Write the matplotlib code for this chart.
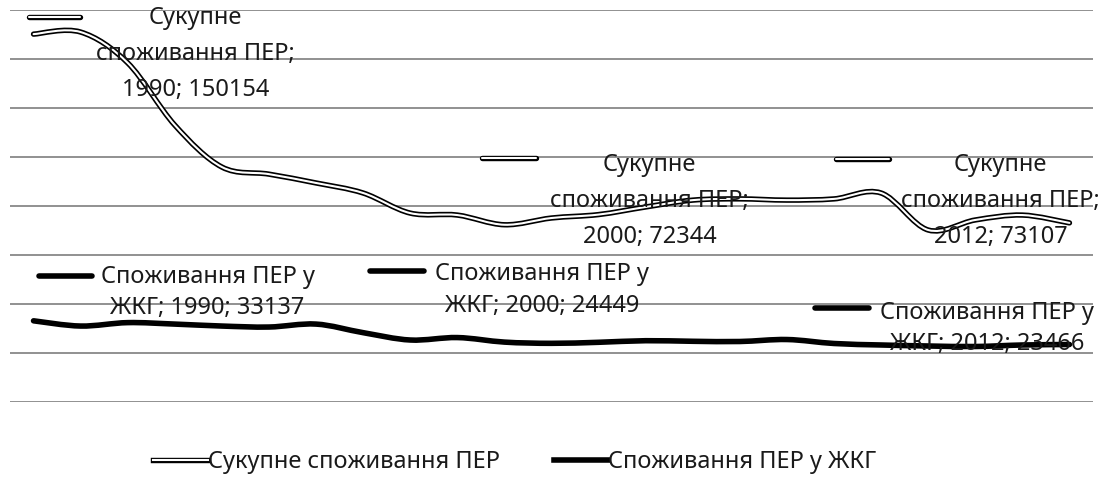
import matplotlib.pyplot as plt
import matplotlib.patheffects as pe
import matplotlib.transforms as mtransforms
from matplotlib.path import Path
from matplotlib.patches import PathPatch
from matplotlib.lines import Line2D
import numpy as np

plt.rcParams['font.family'] = ['Noto Sans', 'DejaVu Sans']

# дані
years = list(range(1990, 2013))
total = [150154, 151000, 138400, 113000, 95900, 93000, 89400, 85300, 77100, 76300,
         72344, 75100, 76500, 79600, 82400, 82900, 82400, 82900, 85300, 70200,
         74300, 76300, 73107]
housing = [33137, 31000, 32400, 31800, 31000, 30600, 31800, 28300, 25300, 26300,
           24449, 23950, 24370, 25020, 24780, 24690, 25500, 23880, 23270, 22860,
           22650, 23270, 23466]
name_total = 'Сукупне споживання ПЕР'
name_housing = 'Споживання ПЕР у ЖКГ'
label_years = [1990, 2000, 2012]

W, H = 1103, 490
fig = plt.figure(figsize=(W / 100, H / 100), dpi=100)
ax = fig.add_axes([10 / W, 88 / H, 1083 / W, 392 / H])
ax.set_xlim(1989.5, 2012.5)
ax.set_ylim(0, 160000)
ax.set_yticks(np.arange(0, 160001, 20000))
ax.set_xticks([])
ax.tick_params(left=False, labelleft=False)
for s in ax.spines.values():
    s.set_visible(False)
ax.grid(axis='y', color='#888888', linewidth=1.3)
ax.set_axisbelow(True)

double_fx = [pe.Stroke(linewidth=3.9, foreground='black'), pe.Normal()]
txt_col = '#1a1a1a'
fs = 17


def smooth_path(xs, ys):
    # згладжена лінія як в Excel (кубічні Безьє через точки)
    pts = np.column_stack([xs, ys]).astype(float)
    n = len(pts)
    verts = [pts[0]]
    codes = [Path.MOVETO]
    for i in range(n - 1):
        p0 = pts[max(i - 1, 0)]
        p1 = pts[i]
        p2 = pts[i + 1]
        p3 = pts[min(i + 2, n - 1)]
        c1 = p1 + (p2 - p0) / 6
        c2 = p2 - (p3 - p1) / 6
        verts += [c1, c2, p2]
        codes += [Path.CURVE4] * 3
    return Path(verts, codes)


p_total = PathPatch(smooth_path(years, total), facecolor='none', edgecolor='white',
                    linewidth=1.5, capstyle='round', joinstyle='round', path_effects=double_fx)
ax.add_patch(p_total)
p_house = PathPatch(smooth_path(years, housing), facecolor='none', edgecolor='black',
                    linewidth=4.0, capstyle='round', joinstyle='round')
ax.add_patch(p_house)

# підписи даних: (dx, dy) тексту та ключа в пікселях від точки
total_lab = {1990: ((162, -20), (-5, 46, 17)),
             2000: ((145, 24), (-22, 32, 67)),
             2012: ((-69, 22), (-233, -180, 64))}
house_lab = {1990: ((174, 28), (5, 58, 45)),
             2000: ((38, 52), (-134, -80, 71)),
             2012: ((-82, 16), (-254, -200, 37))}

for yr in label_years:
    i = years.index(yr)
    (tx, ty), (k1, k2, ky) = total_lab[yr]
    ax.annotate(f'Сукупне\nспоживання ПЕР;\n{yr}; {total[i]}', xy=(yr, total[i]),
                xytext=(tx, ty), textcoords='offset pixels', ha='center', va='center',
                fontsize=fs, linespacing=1.68, color=txt_col, annotation_clip=False)
    tr = mtransforms.ScaledTranslation(yr, total[i], ax.transData)
    fig.add_artist(Line2D([k1, k2], [ky, ky], transform=tr, color='white', linewidth=1.5,
                          solid_capstyle='round', path_effects=double_fx))

    (tx, ty), (k1, k2, ky) = house_lab[yr]
    ax.annotate(f'Споживання ПЕР у\nЖКГ; {yr}; {housing[i]}', xy=(yr, housing[i]),
                xytext=(tx, ty), textcoords='offset pixels', ha='center', va='center',
                fontsize=fs, linespacing=1.4, color=txt_col, annotation_clip=False)
    tr = mtransforms.ScaledTranslation(yr, housing[i], ax.transData)
    fig.add_artist(Line2D([k1, k2], [ky, ky], transform=tr, color='black', linewidth=4.0,
                          solid_capstyle='round'))

handles = [Line2D([], [], color='white', linewidth=1.5, path_effects=double_fx),
           Line2D([], [], color='black', linewidth=4.0)]
fig.legend(handles, [name_total, name_housing], loc='center', ncol=2, frameon=False,
           bbox_to_anchor=(515 / W, 28 / H), fontsize=fs, handlelength=2.3,
           handletextpad=0.0, columnspacing=2.3, labelcolor=txt_col)

fig.savefig('out.png', dpi=100)
